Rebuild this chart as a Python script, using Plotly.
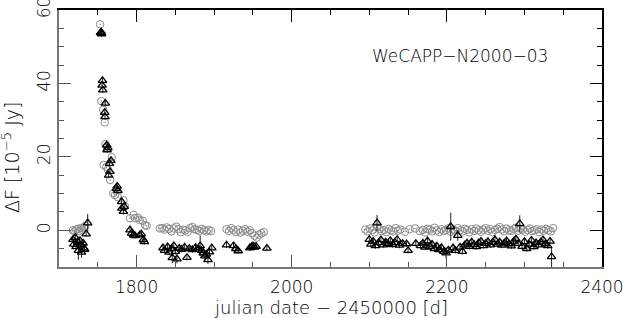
import plotly.graph_objects as go

# ---------------- data ----------------
# grey circles
circ_x = [1718, 1720, 1722, 1724, 1726, 1728, 1730, 1732, 1734,
          1753, 1754.5, 1757, 1759, 1760, 1757.5, 1761, 1768, 1763, 1766, 1770, 1772, 1776,
          1783, 1785, 1791.5, 1796, 1798, 1802, 1804, 1808, 1811, 1813,
          1830, 1833, 1836, 1839, 1842, 1845, 1848, 1851, 1854, 1857, 1860, 1863, 1866,
          1869, 1872, 1875, 1878, 1881, 1884, 1887, 1890, 1893, 1896,
          1916, 1919, 1922, 1925, 1928, 1931, 1934, 1937, 1940, 1943, 1946, 1949, 1952,
          1955, 1958, 1961, 1964,
          2095, 2098, 2101, 2104, 2107, 2110, 2113, 2116, 2119, 2122, 2125, 2128, 2131,
          2134, 2137, 2140, 2146, 2152, 2159, 2165, 2169, 2172, 2175, 2178, 2181, 2184,
          2187, 2190, 2193, 2196, 2199, 2202, 2205, 2208, 2211, 2214, 2217, 2220, 2223,
          2226, 2229, 2232, 2235, 2238, 2241, 2244, 2247, 2250, 2253, 2256, 2259, 2262,
          2265, 2268, 2271, 2274, 2277, 2280, 2283, 2286, 2289, 2292, 2295, 2298, 2301,
          2304, 2307, 2310, 2313, 2316, 2319, 2322, 2325, 2328, 2331, 2334, 2337]
circ_y = [0.0, -0.3, 0.2, 0.4, -0.2, 0.6, 0.1, 0.8, 1.2,
          56.1, 35.2, 32.8, 29.4, 23.5, 17.8, 17.3, 19.9, 16.5, 13.7, 10.1, 9.6, 9.0,
          8.2, 6.5, 3.3, 4.2, 3.3, 3.4, 2.8, 2.6, 1.4, 1.2,
          0.5, 0.6, 0.2, 0.8, 0.4, -0.3, 0.5, 1.0, 0.3, -0.5, 0.2, 0.0, -0.4,
          0.6, 0.9, 0.3, 0.1, -0.2, 0.4, 0.0, -0.3, 0.1, -0.2,
          0.3, -0.2, 0.6, 0.1, -0.5, 0.2, -0.6, -0.1, 0.3, -0.4, 0.0, -0.8, -1.5,
          -2.0, -1.2, -0.8, -0.5,
          0.2, -0.3, 0.5, 0.0, -0.6, 0.8, 0.3, -0.2, 0.1, -0.5, 0.4, 0.0, -0.3,
          0.6, -0.1, 0.2, -0.4, 0.3, 0.5, -0.2, 0.1, -0.6, 0.4, 0.2, -0.3, 0.7,
          0.0, -0.5, 0.3, -0.2, 0.1, 0.5, -0.4, 0.2, -0.1, 0.6, 0.0, -0.3, 0.4,
          0.1, -0.6, 0.3, -0.2, 0.5, 0.0, -0.4, 0.2, 0.6, -0.1, 0.3, -0.5, 0.1,
          0.4, 0.9, 0.2, -0.3, 0.5, 0.0, -0.2, 0.3, 0.7, -0.1, 0.4, 0.2, -0.4,
          0.1, 0.5, -0.2, 0.0, 0.3, -0.5, 0.2, -0.1, 0.4, 0.0, -0.3, 0.6]

# black triangles
tri_x = [1718, 1719, 1721, 1722, 1724, 1725, 1727, 1728, 1729, 1731, 1732, 1733, 1735, 1737,
         1753.5, 1754.5, 1755, 1756, 1755.5, 1756.5, 1759.7, 1759, 1759.3, 1761.4, 1762, 1763,
         1765, 1765.7, 1764, 1767, 1774, 1775, 1776, 1780.7, 1781, 1783, 1784,
         1791.5, 1793.6, 1796, 1798, 1804, 1806, 1808.7, 1810,
         1834, 1836, 1840, 1842, 1845, 1846, 1848, 1850, 1852, 1855, 1858, 1862, 1865,
         1868, 1872, 1876, 1880, 1882, 1884, 1886, 1888, 1890, 1892, 1894, 1897,
         1916, 1925, 1928, 1931, 1946, 1948, 1950, 1952, 1954, 1968,
         2100, 2102, 2105, 2108, 2110, 2112, 2115, 2118, 2121, 2124, 2127, 2130, 2133,
         2136, 2139, 2143, 2148, 2150, 2160, 2166, 2169, 2172, 2175, 2178, 2181, 2184,
         2187, 2190, 2193, 2196, 2199, 2202, 2205, 2208, 2211, 2214, 2217, 2220, 2223,
         2226, 2229, 2232, 2235, 2238, 2241, 2244, 2247, 2250, 2253, 2256, 2259, 2262,
         2265, 2268, 2271, 2274, 2277, 2280, 2283, 2286, 2289, 2292, 2294, 2297, 2300,
         2303, 2306, 2309, 2312, 2315, 2318, 2321, 2324, 2327, 2330, 2333, 2335]
tri_y = [-2.5, -3.8, -2.0, -4.5, -3.2, -5.5, -2.8, -4.0, -6.0, -3.5, -4.8, -5.2, -1.0, 2.0,
         53.8, 54.0, 53.5, 40.8, 39.5, 38.2, 34.6, 32.1, 30.9, 23.2, 21.9, 22.5,
         18.2, 16.0, 15.0, 19.0, 11.4, 12.0, 10.8, 7.8, 6.0, 5.1, 6.5,
         0.1, -0.8, -1.3, -1.5, -1.3, -1.0, -2.6, -3.1,
         -4.8, -5.5, -4.5, -6.0, -5.0, -7.5, -4.2, -5.8, -7.8, -4.9, -5.2, -4.6, -7.4,
         -5.0, -5.3, -4.7, -5.1, -4.2, -5.5, -6.2, -7.0, -6.5, -8.0, -5.9, -4.8,
         -4.0, -4.2, -5.0, -5.6, -4.8, -4.5, -4.2, -4.6, -4.4, -4.9,
         -2.5, -3.8, -3.0, -4.2, 2.0, -3.4, -2.6, -4.0, -3.2, -3.7, -2.8, -3.9, -3.3,
         -2.5, -4.1, -3.6, -3.7, -5.5, -3.6, -4.2, -3.5, -4.6, -2.9, -4.4, -3.8, -5.0,
         -4.3, -5.3, -4.7, -5.8, -6.2, -5.4, 1.0, -4.8, -5.5, -1.4, -4.6, -5.8, -4.0,
         -3.5, -4.4, -3.2, -3.9, -4.5, -3.4, -3.0, -4.2, -3.6, -3.1, -4.0, -3.3, -2.6,
         -3.8, -3.2, -4.1, -3.5, -2.9, -3.7, -4.3, -3.0, -2.4, -3.6, 1.8, -4.4, -3.1,
         -5.0, -3.8, -2.7, -4.5, -3.4, -4.0, -3.2, -2.6, -3.7, -4.2, -3.0, -7.2]
tri_err = [0.8, 0.8, 0.8, 0.8, 0.8, 2.5, 0.8, 0.8, 1.5, 0.8, 0.8, 0.8, 0.8, 2.5,
           0.8, 0.8, 0.8, 0.8, 0.8, 0.8, 0.8, 0.8, 0.8, 0.8, 0.8, 0.8,
           0.8, 0.8, 0.8, 0.8, 0.8, 0.8, 0.8, 0.8, 0.8, 0.8, 0.8,
           0.8, 0.8, 0.8, 0.8, 0.8, 0.8, 0.8, 0.8,
           0.8, 0.8, 0.8, 0.8, 0.8, 1.5, 0.8, 0.8, 1.2, 0.8, 0.8, 0.8, 0.8,
           0.8, 0.8, 0.8, 0.8, 2.8, 0.8, 0.8, 1.5, 0.8, 1.2, 0.8, 0.8,
           0.8, 0.8, 0.8, 0.8, 0.8, 0.8, 0.8, 0.8, 0.8, 0.8,
           0.8, 0.8, 0.8, 0.8, 2.2, 0.8, 0.8, 0.8, 0.8, 0.8, 0.8, 0.8, 0.8,
           0.8, 0.8, 0.8, 0.8, 0.8, 0.8, 0.8, 0.8, 0.8, 0.8, 0.8, 0.8, 0.8,
           0.8, 0.8, 0.8, 0.8, 1.5, 0.8, 3.8, 0.8, 0.8, 1.5, 0.8, 0.8, 0.8,
           0.8, 0.8, 0.8, 0.8, 0.8, 0.8, 0.8, 0.8, 0.8, 0.8, 0.8, 0.8, 1.2,
           0.8, 0.8, 0.8, 0.8, 0.8, 0.8, 0.8, 0.8, 0.8, 0.8, 2.3, 0.8, 0.8,
           0.8, 0.8, 0.8, 0.8, 0.8, 0.8, 0.8, 0.8, 0.8, 0.8, 0.8, 2.8]

x_ticks = [1800, 2000, 2200, 2400]
y_ticks = [0, 20, 40, 60]
label_text = "WeCAPP\u2212N2000\u221203"
x_title = "julian date \u2212 2450000 [d]"
y_title = "\u0394F [10<sup>\u22125</sup> Jy]"

# ---------------- figure ----------------
FONT = "DejaVu Sans Light, DejaVu Sans"
fig = go.Figure()
fig.add_trace(go.Scatter(
    x=circ_x, y=circ_y, mode="markers",
    marker=dict(symbol="circle-open-dot", size=7.5, color="#8c8c8c", line=dict(width=1)),
))
fig.add_trace(go.Scatter(
    x=tri_x, y=tri_y, mode="markers",
    error_y=dict(type="data", array=tri_err, visible=True, thickness=1, width=0, color="#222"),
    marker=dict(symbol="triangle-up-open", size=7.5, color="black", line=dict(width=1.3)),
))
# invisible trace to hold the mirrored top/right axes
fig.add_trace(go.Scatter(x=[None], y=[None], xaxis="x2", yaxis="y2", showlegend=False,
                         hoverinfo="skip"))

axis_font = dict(family=FONT, size=17, color="#000")
common = dict(showgrid=False, zeroline=False, ticks="inside", showline=True, automargin=False)

fig.update_layout(
    width=623, height=318,
    margin=dict(l=59, r=21, t=10, b=51, autoexpand=False),
    plot_bgcolor="white", paper_bgcolor="white",
    showlegend=False,
    font=axis_font,
    xaxis=dict(range=[1700, 2400], tickvals=x_ticks, ticklen=12, tickcolor="#555",
               linecolor="#777", linewidth=1.5, tickfont=axis_font,
               ticklabeloverflow="allow", ticklabelstandoff=4,
               minor=dict(dtick=50, tick0=1700, ticklen=5, ticks="inside", tickcolor="#555"),
               **common),
    yaxis=dict(range=[-10, 60], tickvals=y_ticks, ticklen=12, tickcolor="#555",
               linecolor="#777", linewidth=1.5, tickangle=-90, tickfont=axis_font,
               ticklabeloverflow="allow",
               minor=dict(dtick=5, tick0=0, ticklen=5, ticks="inside", tickcolor="#555"),
               **common),
    xaxis2=dict(range=[1700, 2400], overlaying="x", side="top", anchor="y2",
                tickvals=x_ticks, ticklen=12, tickcolor="black", linecolor="black",
                linewidth=1.5, showticklabels=False,
                minor=dict(dtick=50, tick0=1700, ticklen=5, ticks="inside", tickcolor="black"),
                **common),
    yaxis2=dict(range=[-10, 60], overlaying="y", side="right", anchor="x2",
                tickvals=y_ticks, ticklen=12, tickcolor="black", linecolor="black",
                linewidth=1.5, showticklabels=False,
                minor=dict(dtick=5, tick0=0, ticklen=5, ticks="inside", tickcolor="black"),
                **common),
)

# axis titles as annotations (exact placement)
fig.add_annotation(x=0.5, y=-0.156, xref="paper", yref="paper", text=x_title,
                   showarrow=False, xanchor="center", yanchor="middle",
                   font=dict(family=FONT, size=18, color="#000"))
fig.add_annotation(x=-0.088, y=0.425, xref="paper", yref="paper", text=y_title,
                   showarrow=False, xanchor="center", yanchor="middle", textangle=-90,
                   font=dict(family=FONT, size=19, color="#000"))
fig.add_annotation(x=2101, y=47.5, xref="x", yref="y", text=label_text, showarrow=False,
                   xanchor="left", yanchor="middle",
                   font=dict(family=FONT, size=17, color="#000"))

fig.write_html("out.html", config={"displayModeBar": False},
               post_script="document.body.style.margin='0';")
